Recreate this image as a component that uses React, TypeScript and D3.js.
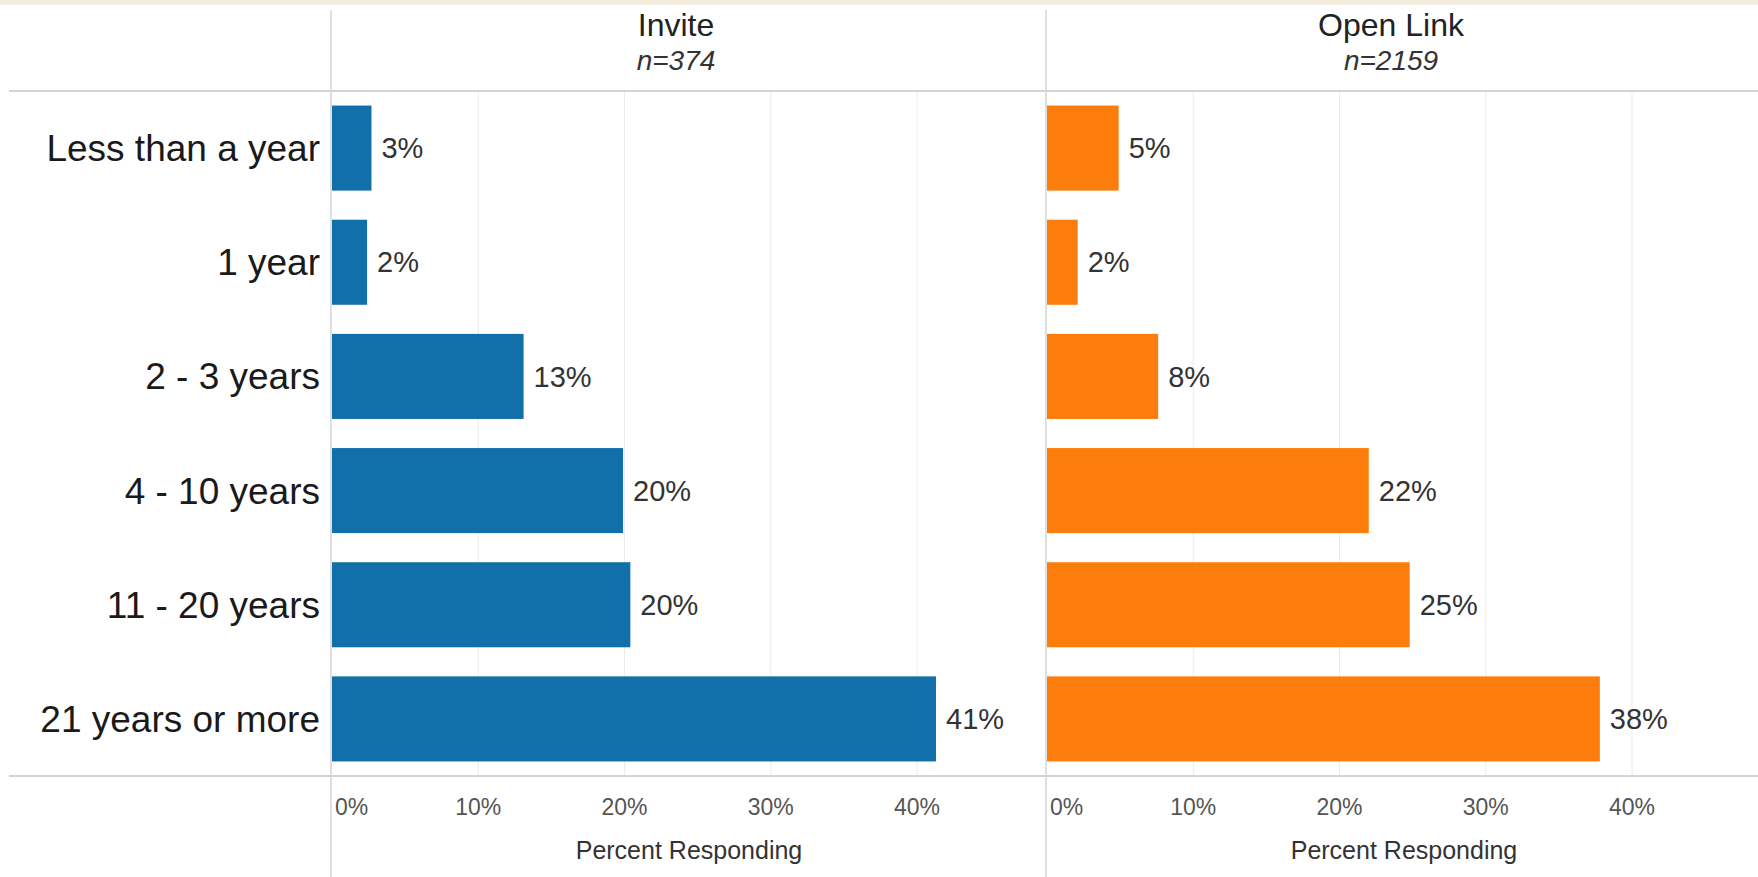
import React from "react";
import * as d3 from "d3";

const categories = ["Less than a year", "1 year", "2 - 3 years", "4 - 10 years", "11 - 20 years", "21 years or more"];
const panelNames = ["Invite", "Open Link"];
const panelN = ["n=374", "n=2159"];
const inviteValues = [2.7, 2.4, 13.1, 19.9, 20.4, 41.3];
const openLinkValues = [4.9, 2.1, 7.6, 22.0, 24.8, 37.8];
const tickValues = [0, 10, 20, 30, 40];
const axisTitle = "Percent Responding";
const panelColors = ["#1170aa", "#fc7d0b"];

const W = 1758;
const H = 877;
const headerY = 91;
const axisY = 776;
const font = "'Liberation Sans', Arial, sans-serif";

export default function App() {
  const series = [inviteValues, openLinkValues];
  const panelX0 = [332, 1047];
  const y = d3.scaleBand<string>().domain(categories).range([headerY, axisY]).paddingInner(0.255).paddingOuter(0.1275);
  const fmt = (v: number) => `${Math.round(v)}%`;

  return (
    <svg width={W} height={H} style={{ position: "absolute", left: 0, top: 0, background: "#fff" }}>
      <rect x={0} y={0} width={W} height={5} fill="#f3ecdd" />
      {series.map((vals, pi) => {
        const x = d3.scaleLinear().domain([0, 40]).range([panelX0[pi], panelX0[pi] + 585]);
        return (
          <g key={pi}>
            {tickValues.filter((t) => t > 0).map((t) => (
              <line key={t} x1={x(t)} x2={x(t)} y1={headerY} y2={axisY} stroke="#ececec" strokeWidth={1} />
            ))}
            {vals.map((v, i) => (
              <g key={i}>
                <rect x={x(0)} y={y(categories[i])} width={x(v) - x(0)} height={y.bandwidth()} fill={panelColors[pi]} />
                <text x={x(v) + 10} y={(y(categories[i]) as number) + y.bandwidth() / 2} dy="0.35em" fontFamily={font} fontSize={29} fill="#333">
                  {fmt(v)}
                </text>
              </g>
            ))}
            {tickValues.map((t) => (
              <text key={t} x={t === 0 ? x(t) + 3 : x(t)} y={807} dy="0.35em" textAnchor={t === 0 ? "start" : "middle"} fontFamily={font} fontSize={23} fill="#555">
                {`${t}%`}
              </text>
            ))}
            <text x={x(0) + 357} y={850} dy="0.35em" textAnchor="middle" fontFamily={font} fontSize={25} fill="#333">
              {axisTitle}
            </text>
            <text x={x(0) + 344} y={25} dy="0.35em" textAnchor="middle" fontFamily={font} fontSize={32} fill="#222">
              {panelNames[pi]}
            </text>
            <text x={x(0) + 344} y={60} dy="0.35em" textAnchor="middle" fontFamily={font} fontSize={28} fontStyle="italic" fill="#333">
              {panelN[pi]}
            </text>
          </g>
        );
      })}
      <line x1={9} x2={W} y1={headerY} y2={headerY} stroke="#d4d4d4" strokeWidth={2} />
      <line x1={9} x2={W} y1={axisY} y2={axisY} stroke="#d4d4d4" strokeWidth={2} />
      {panelX0.map((px, i) => (
        <line key={i} x1={px - 1} x2={px - 1} y1={10} y2={H} stroke="#d4d4d4" strokeWidth={1.5} />
      ))}
      {categories.map((c) => (
        <text key={c} x={320} y={(y(c) as number) + y.bandwidth() / 2} dy="0.35em" textAnchor="end" fontFamily={font} fontSize={37} fill="#1a1a1a">
          {c}
        </text>
      ))}
    </svg>
  );
}
